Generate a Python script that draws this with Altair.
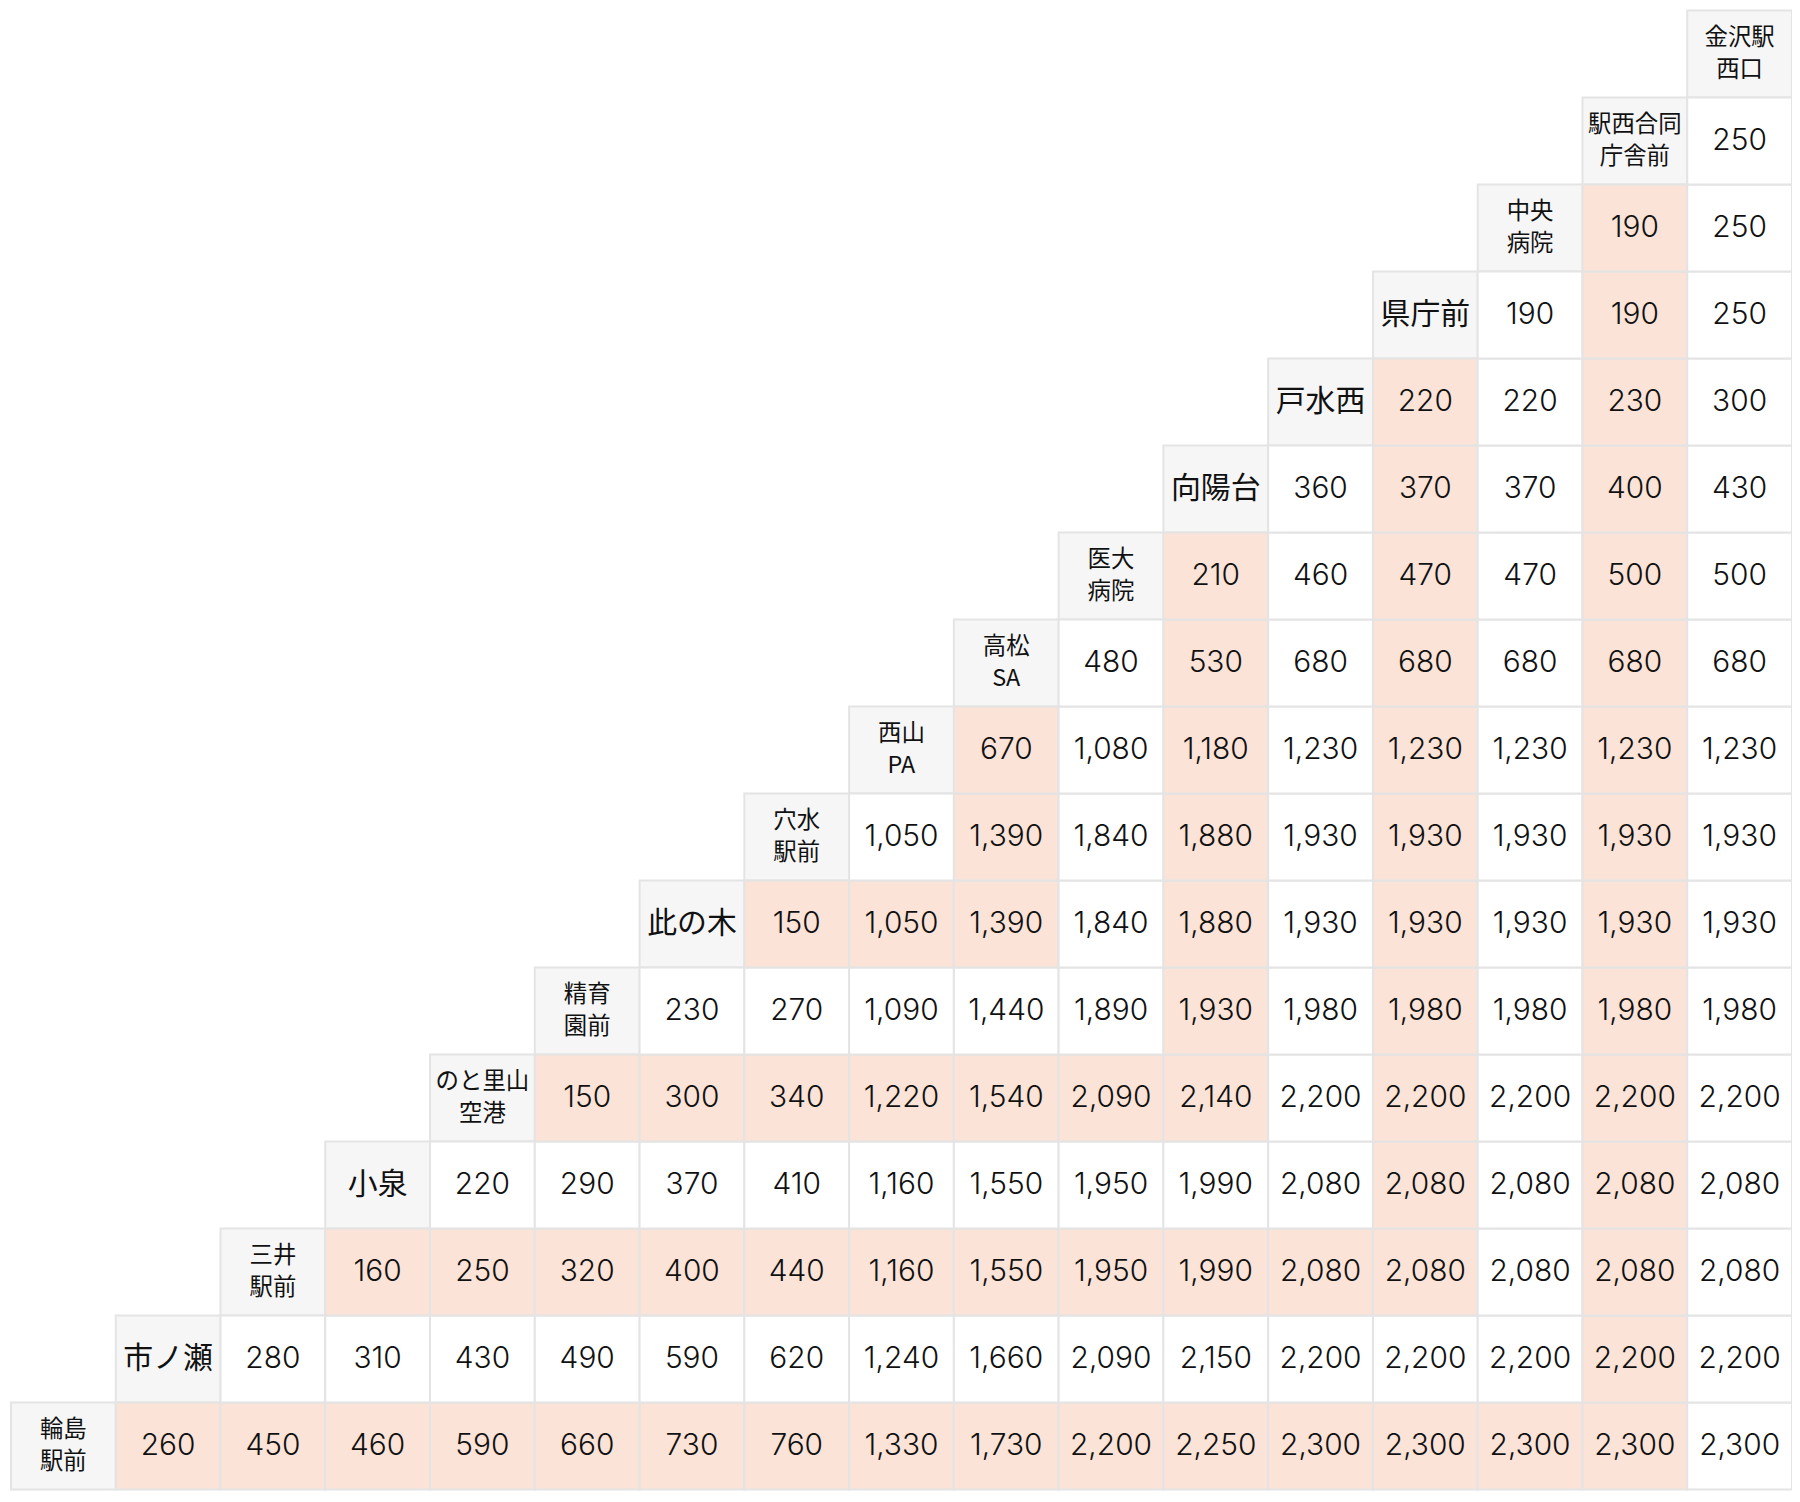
import altair as alt
import pandas as pd

# Stations from 輪島駅前 (index 0) to 金沢駅西口 (index 16)
stations = ["輪島\n駅前", "市ノ瀬", "三井\n駅前", "小泉", "のと里山\n空港", "精育\n園前",
            "此の木", "穴水\n駅前", "西山\nPA", "高松\nSA", "医大\n病院", "向陽台",
            "戸水西", "県庁前", "中央\n病院", "駅西合同\n庁舎前", "金沢駅\n西口"]

# Fares from station s to each later station (s+1 ... 16)
f0 = [260, 450, 460, 590, 660, 730, 760, 1330, 1730, 2200, 2250, 2300, 2300, 2300, 2300, 2300]
f1 = [280, 310, 430, 490, 590, 620, 1240, 1660, 2090, 2150, 2200, 2200, 2200, 2200, 2200]
f2 = [160, 250, 320, 400, 440, 1160, 1550, 1950, 1990, 2080, 2080, 2080, 2080, 2080]
f3 = [220, 290, 370, 410, 1160, 1550, 1950, 1990, 2080, 2080, 2080, 2080, 2080]
f4 = [150, 300, 340, 1220, 1540, 2090, 2140, 2200, 2200, 2200, 2200, 2200]
f5 = [230, 270, 1090, 1440, 1890, 1930, 1980, 1980, 1980, 1980, 1980]
f6 = [150, 1050, 1390, 1840, 1880, 1930, 1930, 1930, 1930, 1930]
f7 = [1050, 1390, 1840, 1880, 1930, 1930, 1930, 1930, 1930]
f8 = [670, 1080, 1180, 1230, 1230, 1230, 1230, 1230]
f9 = [480, 530, 680, 680, 680, 680, 680]
f10 = [210, 460, 470, 470, 500, 500]
f11 = [360, 370, 370, 400, 430]
f12 = [220, 220, 230, 300]
f13 = [190, 190, 250]
f14 = [190, 250]
f15 = [250]
fares = [f0, f1, f2, f3, f4, f5, f6, f7, f8, f9, f10, f11, f12, f13, f14, f15]

N = len(stations)
PINK = "#fbe3d7"
WHITE = "#ffffff"
GRAY = "#f6f6f6"

rows = []
for s, name in enumerate(stations):
    r = N - 1 - s
    kind = "two" if "\n" in name else "one"
    rows.append(dict(x0=s, x1=s + 1, y0=r, y1=r + 1, xc=s + 0.5, yc=r + 0.5,
                     txt=name, fill=GRAY, kind=kind))
for s, lst in enumerate(fares):
    r = N - 1 - s
    for i, v in enumerate(lst):
        t = s + 1 + i
        if t < (N - 1) - s:
            pink = (s % 2 == 0)
        else:
            pink = (t % 2 == 1)
        rows.append(dict(x0=t, x1=t + 1, y0=r, y1=r + 1, xc=t + 0.5, yc=r + 0.5,
                         txt=f"{v:,}", fill=PINK if pink else WHITE, kind="num"))

df = pd.DataFrame(rows)

W, H = 1787, 1484
xs = alt.Scale(domain=[0, N], range=[0, W], nice=False, zero=False)
ys = alt.Scale(domain=[0, N], range=[0, H], nice=False, zero=False)

base = alt.Chart(df)
cells = base.mark_rect(stroke="#e4e4e4", strokeWidth=2).encode(
    x=alt.X("x0:Q", scale=xs, axis=None),
    x2="x1:Q",
    y=alt.Y("y0:Q", scale=ys, axis=None),
    y2="y1:Q",
    color=alt.Color("fill:N", scale=None),
)

def text_layer(kind, **kw):
    return base.transform_filter(alt.datum.kind == kind).mark_text(
        color="#111111", align="center", baseline="middle", **kw
    ).encode(
        x=alt.X("xc:Q", scale=xs, axis=None),
        y=alt.Y("yc:Q", scale=ys, axis=None),
        text="txt:N",
    )

nums = text_layer("num", font="Inter", fontSize=30, fontWeight=300)
one = text_layer("one", font="Noto Sans CJK JP", fontSize=30)
two = text_layer("two", font="Noto Sans CJK JP", fontSize=23.5, lineBreak="\n",
                 lineHeight=32, dy=-16)

chart = alt.layer(cells, nums, one, two).properties(
    width=W, height=H,
    autosize=alt.AutoSizeParams(type="none"),
    padding={"left": 3, "top": 0, "right": 0, "bottom": 0},
).configure_view(strokeWidth=0)

chart.save("out.html", embed_options={"renderer": "svg", "actions": False})
